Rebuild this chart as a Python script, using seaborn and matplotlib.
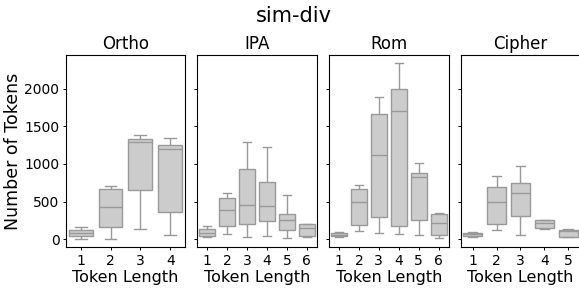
import matplotlib
matplotlib.use("Agg")
import matplotlib.pyplot as plt
import numpy as np
import pandas as pd
import seaborn as sns

# box stats per script: whisker low, q1, median, q3, whisker high (per token length)
scripts = ["Ortho", "IPA", "Rom", "Cipher"]

ortho_low = [8, 8, 133, 57]
ortho_q1 = [44, 160, 659, 367]
ortho_med = [80, 429, 1296, 1199]
ortho_q3 = [115, 664, 1328, 1257]
ortho_high = [160, 708, 1389, 1345]

ipa_low = [27, 71, 22, 44, 13, 35]
ipa_q1 = [44, 181, 203, 243, 128, 40]
ipa_med = [88, 385, 455, 438, 260, 146]
ipa_q3 = [137, 544, 938, 761, 336, 195]
ipa_high = [177, 619, 1296, 1222, 584, 200]

rom_low = [22, 110, 80, 66, 53, 13]
rom_q1 = [40, 186, 300, 177, 256, 53]
rom_med = [61, 491, 1119, 1700, 831, 212]
rom_q3 = [88, 668, 1668, 1996, 876, 332]
rom_high = [101, 726, 1894, 2337, 1017, 353]

cipher_low = [31, 115, 53, 137, 22]
cipher_q1 = [48, 203, 314, 146, 31]
cipher_med = [66, 495, 611, 217, 110]
cipher_q3 = [88, 695, 752, 252, 119]
cipher_high = [97, 845, 978, 256, 141]

stats = {
    "Ortho": [ortho_low, ortho_q1, ortho_med, ortho_q3, ortho_high],
    "IPA": [ipa_low, ipa_q1, ipa_med, ipa_q3, ipa_high],
    "Rom": [rom_low, rom_q1, rom_med, rom_q3, rom_high],
    "Cipher": [cipher_low, cipher_q1, cipher_med, cipher_q3, cipher_high],
}

# five points per box reproduce the quartiles exactly
rows = []
for name in scripts:
    for cols in stats[name]:
        for i, v in enumerate(cols):
            rows.append((name, i + 1, v))
df = pd.DataFrame(rows, columns=["script", "length", "count"])

fig, axes = plt.subplots(1, 4, figsize=(5.79, 2.89), dpi=100, sharey=True)
fig.subplots_adjust(left=0.1135, right=1.002, bottom=0.1443, top=0.8107, wspace=0.102)

for ax, name in zip(axes, scripts):
    sub = df[df["script"] == name]
    sns.boxplot(data=sub, x="length", y="count", ax=ax, color="#cccccc",
                linecolor="#999999", linewidth=1, whis=(0, 100), width=0.8)
    ax.set_title(name, fontsize=12, pad=4)
    ax.set_xlabel("Token Length", fontsize=11.5, labelpad=1.5)
    ax.set_ylabel("")
    ax.tick_params(labelsize=10, length=2.5, pad=2, width=0.7)
    for s in ax.spines.values():
        s.set_color("black")
        s.set_linewidth(0.8)

axes[0].set_ylabel("Number of Tokens", fontsize=12.5, labelpad=2)
axes[0].set_yticks([0, 500, 1000, 1500, 2000])
fig.suptitle("sim-div", fontsize=15, x=0.507, y=0.98)

fig.savefig("out.png", dpi=100)
